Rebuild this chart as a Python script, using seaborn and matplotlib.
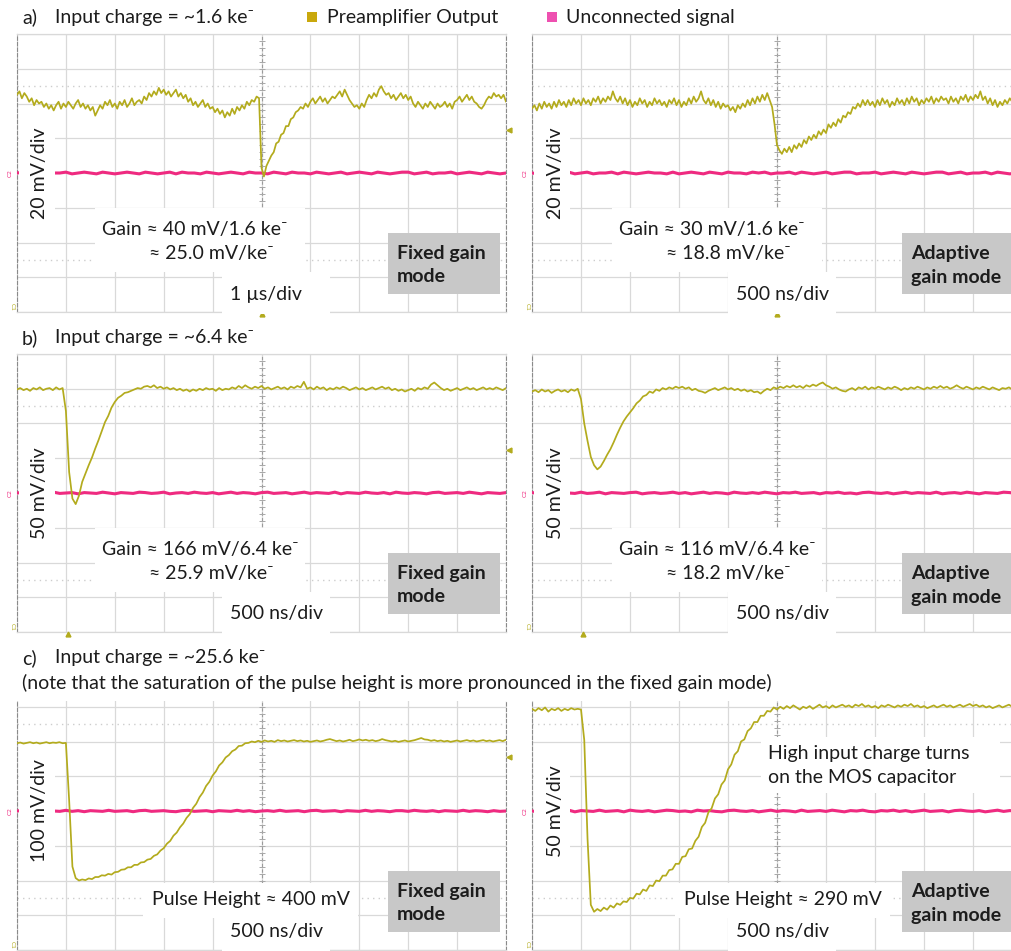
import numpy as np
import pandas as pd
import matplotlib
matplotlib.use("Agg")
import matplotlib.pyplot as plt
from matplotlib.patches import Rectangle
import seaborn as sns

# ---------------------------------------------------------------------------
# Oscilloscope captures, values in mV on screen. Each trace is sampled
# uniformly across the 10 horizontal divisions of its screen.
# ---------------------------------------------------------------------------

# a) input charge ~1.6 ke-, fixed gain mode (20 mV/div, 1 us/div)
preamp_a_fixed = [
    45, 47, 43, 46, 44, 41, 43, 39, 42, 40,
    41, 38, 40, 37, 39, 36, 39, 41, 37, 40,
    38, 41, 39, 37, 40, 42, 38, 40, 37, 39,
    36, 38, 33, 36, 39, 37, 41, 39, 42, 38,
    40, 37, 41, 39, 42, 38, 40, 43, 39, 41,
    42, 40, 44, 42, 46, 44, 47, 45, 49, 46,
    48, 45, 47, 44, 46, 48, 44, 46, 43, 45,
    41, 43, 39, 41, 38, 40, 42, 38, 40, 37,
    38, 35, 37, 34, 36, 32, 35, 33, 37, 34,
    38, 36, 39, 37, 41, 39, 42, 41, 44, 43,
    3, -2, 4, 7, 10, 12, 17, 18, 22, 23,
    27, 27, 31, 32, 35, 36, 38, 37, 40, 38,
    41, 43, 40, 42, 44, 41, 43, 40, 42, 44,
    43, 45, 47, 44, 48, 45, 42, 40, 38, 39,
    37, 40, 38, 42, 45, 43, 46, 44, 48, 50,
    47, 45, 46, 43, 45, 42, 44, 46, 43, 45,
    42, 44, 40, 38, 41, 39, 37, 40, 38, 41,
    39, 37, 40, 38, 39, 41, 38, 40, 37, 41,
    42, 44, 41, 43, 45, 42, 44, 41, 40, 38,
    37, 39, 42, 44, 43, 46, 44, 45, 43, 45,
    41,
]
unconnected_a_fixed = [
    0, 0.5, -0.5, 0, 0.5, -0.5, 0, 0, 0.5, -0.5, 0, 0.5, 0, -0.5, 0.5, 0, -0.5, 0, 0.5, 0,
    -0.5, 0.5, 0, -0.5, 0, 0.5, -0.5, 0.5, 0, 0, -0.5, 0.5, 0, -0.5, 0, 0.5, 0, -0.5, 0.5, 0,
    0, -0.5, 0.5, 0, -0.5, 0.5, 0, 0, -0.5, 0.5, 0, -0.5, 0, 0.5, -0.5, 0, 0.5, 0, -0.5, 0.5,
    0, -0.5, 0, 0.5, 0.5, -0.5, 0, 0.5, -0.5, 0, 0, 0.5, -0.5, 0, 0.5, 0, -0.5, 0.5, 0, -0.5, 0,
]

# a) input charge ~1.6 ke-, adaptive gain mode (20 mV/div, 500 ns/div)
preamp_a_adaptive = [
    37, 39, 36, 40, 37, 41, 38, 40, 37, 41,
    38, 42, 39, 41, 38, 42, 39, 43, 40, 42,
    39, 43, 40, 42, 39, 43, 41, 44, 40, 43,
    41, 44, 42, 47, 43, 41, 44, 40, 43, 39,
    42, 38, 41, 39, 43, 40, 42, 38, 41, 39,
    43, 40, 42, 39, 41, 38, 42, 40, 43, 39,
    42, 38, 41, 39, 43, 40, 44, 41, 43, 47,
    42, 40, 43, 39, 42, 38, 41, 37, 40, 38,
    39, 36, 38, 35, 39, 37, 40, 38, 42, 39,
    43, 40, 44, 41, 45, 42, 46, 42, 38, 28,
    16, 13, 11, 14, 12, 15, 12, 16, 14, 17,
    15, 19, 17, 21, 19, 22, 20, 24, 22, 25,
    23, 28, 26, 29, 27, 31, 29, 33, 32, 35,
    34, 38, 37, 40, 38, 42, 39, 42, 39, 41,
    38, 42, 39, 43, 40, 42, 38, 41, 39, 43,
    40, 42, 39, 43, 40, 44, 41, 43, 39, 42,
    40, 43, 41, 44, 40, 43, 41, 44, 42, 43,
    40, 44, 41, 43, 40, 44, 42, 45, 41, 44,
    42, 45, 43, 47, 42, 44, 40, 43, 39, 42,
    38, 41, 39, 42, 40, 43, 41, 44, 40, 42,
    41,
]
unconnected_a_adaptive = [
    0, -0.5, 0.5, 0, -0.5, 0.5, 0.5, -0.5, 0, 0.5, -0.5, 0, 0, 0.5, -0.5, 0.5, 0, -0.5, 0, 0.5,
    0, 0, -0.5, 0.5, -0.5, 0, 0.5, 0, -0.5, 0.5, 0, -0.5, 0.5, 0, 0, -0.5, 0.5, 0, 0.5, -0.5,
    0, 0, 0.5, -0.5, 0.5, 0, -0.5, 0, 0.5, -0.5, 0, 0.5, 0.5, -0.5, 0, 0, 0.5, -0.5, 0, 0.5,
    0, -0.5, 0.5, 0, -0.5, 0, 0.5, 0.5, -0.5, 0, 0.5, -0.5, 0, 0, 0.5, -0.5, 0.5, 0, -0.5, 0, 0.5,
]

# b) input charge ~6.4 ke-, fixed gain mode (50 mV/div, 500 ns/div)
preamp_b_fixed = [
    149, 151, 148, 150, 147, 151, 149, 152, 148, 150,
    151, 148, 152, 149, 151, 118, 30, -8, -16, -4,
    16, 28, 40, 51, 64, 76, 89, 102, 111, 123,
    131, 137, 140, 144, 145, 147, 149, 151, 150, 153,
    154, 152, 155, 151, 153, 150, 152, 149, 151, 148,
    150, 147, 149, 146, 149, 147, 150, 148, 151, 149,
    150, 147, 151, 148, 150, 149, 152, 150, 154, 151,
    155, 152, 150, 153, 151, 154, 150, 152, 149, 151,
    153, 150, 152, 149, 153, 151, 154, 152, 160, 150,
    152, 149, 153, 150, 152, 148, 151, 149, 152, 150,
    153, 151, 148, 150, 152, 149, 151, 148, 150, 152,
    149, 151, 153, 150, 152, 148, 150, 147, 149, 146,
    148, 150, 147, 151, 149, 152, 150, 156, 159, 155,
    151, 148, 150, 147, 149, 151, 148, 150, 152, 149,
    151, 148, 150, 152, 149, 151, 149, 152, 150, 148,
    151,
]
unconnected_b_fixed = [
    0, 1.2, -0.6, 0.6, -1.2, 0, 1.2, -0.6, 0, 0.6, -1.2, 0.6, 0, -0.6, 1.2, 0, -1.2, 0.6, 0, -0.6,
    1.2, 0.6, -0.6, 0, 1.2, -1.2, 0, 0.6, -0.6, 1.2, 0, -0.6, 0.6, -1.2, 0, 1.2, -0.6, 0.6, 0, -1.2,
    0.6, 1.2, -0.6, 0, 0.6, -1.2, 0, 1.2, -0.6, 0.6, 0, -0.6, 1.2, -1.2, 0.6, 0, -0.6, 1.2, 0, -0.6,
    0.6, -1.2, 1.2, 0, -0.6, 0.6, 0, -1.2, 0.6, 1.2, -0.6, 0, 0.6, -0.6, 1.2, 0, -1.2, 0.6, 0, -0.6, 0.6,
]

# b) input charge ~6.4 ke-, adaptive gain mode (50 mV/div, 500 ns/div)
preamp_b_adaptive = [
    146, 148, 145, 149, 146, 148, 144, 147, 149, 146,
    148, 145, 149, 147, 150, 135, 100, 75, 52, 40,
    34, 38, 46, 55, 63, 73, 84, 94, 103, 110,
    116, 122, 129, 133, 139, 141, 146, 144, 149, 147,
    151, 149, 152, 150, 153, 151, 153, 150, 152, 148,
    150, 147, 146, 144, 147, 149, 151, 148, 150, 152,
    149, 151, 148, 150, 147, 149, 146, 148, 145, 146,
    143, 147, 150, 148, 152, 150, 153, 151, 154, 152,
    155, 152, 154, 151, 155, 153, 156, 154, 157, 159,
    155, 153, 150, 152, 149, 147, 146, 149, 151, 148,
    152, 150, 153, 149, 152, 150, 153, 151, 149, 152,
    150, 153, 151, 148, 151, 149, 152, 150, 153, 151,
    149, 152, 150, 153, 151, 154, 151, 153, 150, 152,
    155, 152, 150, 153, 151, 149, 152, 150, 153, 151,
    149, 152, 150, 148, 151, 150, 152, 149, 151, 150,
    152,
]
unconnected_b_adaptive = [
    0.6, -0.6, 1.2, 0, -1.2, 0.6, 0, -0.6, 1.2, -0.6, 0, 1.2, -1.2, 0.6, 0, -0.6, 0.6, 1.2, -1.2, 0,
    0.6, -0.6, 0, 1.2, -0.6, 0.6, -1.2, 0, 1.2, -0.6, 0.6, 0, -1.2, 1.2, 0, -0.6, 0.6, -0.6, 1.2, 0,
    -1.2, 0.6, 0, 1.2, -0.6, 0, 0.6, -1.2, 0.6, 0, 1.2, -0.6, 0, -1.2, 0.6, 1.2, 0, -0.6, 0.6, -1.2,
    0, 1.2, -0.6, 0.6, 0, -0.6, 1.2, -1.2, 0, 0.6, -0.6, 1.2, 0, -1.2, 0.6, 0, -0.6, 1.2, 0.6, -0.6, 0,
]

# c) input charge ~25.6 ke-, fixed gain mode (100 mV/div, 500 ns/div)
preamp_c_fixed = [
    195, 197, 194, 196, 198, 195, 197, 194, 196, 198,
    195, 197, 196, 198, 195, 196, 30, -160, -193, -200,
    -197, -199, -194, -196, -190, -190, -185, -186, -181, -183,
    -176, -175, -169, -168, -162, -162, -155, -155, -148, -147,
    -140, -138, -129, -125, -114, -107, -94, -86, -71, -62,
    -47, -36, -20, -9, 9, 21, 40, 53, 72, 84,
    102, 114, 131, 140, 154, 161, 172, 177, 187, 188,
    195, 196, 200, 198, 202, 199, 203, 200, 202, 199,
    204, 201, 203, 200, 202, 204, 201, 203, 200, 202,
    199, 201, 203, 200, 202, 205, 207, 204, 201, 203,
    200, 202, 205, 201, 203, 206, 203, 205, 202, 204,
    201, 203, 207, 204, 202, 200, 202, 199, 201, 203,
    200, 202, 204, 207, 210, 206, 205, 202, 204, 201,
    203, 200, 202, 199, 201, 203, 200, 202, 204, 201,
    203, 200, 202, 204, 201, 203, 200, 202, 204, 201,
    205,
]
unconnected_c_fixed = [
    0, 2, -1, 1, -2, 1, 0, -1, 2, -1, 1, -2, 1, 0, -1, 2, -1, 0, 1, -2,
    1, 2, -1, 0, 1, -1, -2, 1, 2, -1, 0, 1, -2, 1, 0, -1, 2, -1, 1, -2,
    0, 1, -1, 2, -1, 0, 1, -2, 1, 2, -1, 0, 1, -2, 1, 0, -1, 2, -1, 1,
    0, -2, 1, 1, -1, 2, 0, -1, 1, -2, 1, 0, -1, 2, -1, 1, 0, -2, 1, -1, 0,
]

# c) input charge ~25.6 ke-, adaptive gain mode (50 mV/div, 500 ns/div)
preamp_c_adaptive = [
    147, 144, 148, 145, 149, 143, 147, 145, 148, 144,
    147, 145, 148, 146, 147, 146, 102, -40, -135, -145,
    -141, -144, -139, -142, -136, -139, -133, -135, -130, -131,
    -125, -126, -119, -120, -113, -115, -107, -108, -100, -101,
    -93, -93, -85, -84, -76, -76, -66, -65, -55, -54,
    -43, -37, -23, -17, -2, 4, 18, 24, 38, 44,
    60, 67, 81, 86, 100, 103, 115, 119, 128, 128,
    137, 137, 144, 143, 149, 146, 150, 147, 151, 148,
    152, 149, 146, 150, 148, 151, 147, 150, 153, 149,
    151, 148, 152, 149, 151, 153, 150, 152, 149, 153,
    151, 154, 150, 152, 149, 151, 148, 152, 150, 153,
    151, 149, 152, 150, 153, 151, 154, 150, 152, 149,
    151, 148, 150, 152, 149, 151, 153, 150, 152, 149,
    151, 153, 150, 152, 154, 151, 153, 150, 152, 149,
    151, 148, 150, 152, 149, 151, 153, 150, 148, 151,
    149,
]
unconnected_c_adaptive = [
    0, -1.2, 0.6, 1.2, -0.6, 0, 1.2, -1.2, 0.6, 0, -0.6, 1.2, -0.6, 0, 0.6, -1.2, 1.2, 0, -0.6, 0.6,
    -1.2, 0, 1.2, 0.6, -0.6, 0, -1.2, 1.2, 0, 0.6, -0.6, -1.2, 0.6, 1.2, 0, -0.6, 0.6, -1.2, 0, 1.2,
    -0.6, 0.6, 0, -1.2, 1.2, -0.6, 0, 0.6, -0.6, 1.2, 0, -1.2, 0.6, 0, 1.2, -0.6, -1.2, 0.6, 0, 1.2,
    -0.6, 0.6, -1.2, 0, 1.2, -0.6, 0, 0.6, -1.2, 0.6, 1.2, 0, -0.6, 0.6, -1.2, 0, 1.2, -0.6, 0.6, 0, -0.6,
]

# screen settings per panel
mv_per_div = [20, 20, 50, 50, 100, 50]
ns_per_div = [1000, 500, 500, 500, 500, 500]
scale_labels = ["20 mV/div", "20 mV/div", "50 mV/div", "50 mV/div", "100 mV/div", "50 mV/div"]
time_labels = ["1 µs/div", "500 ns/div", "500 ns/div", "500 ns/div", "500 ns/div", "500 ns/div"]
mode_labels = ["Fixed gain\nmode", "Adaptive\ngain mode"] * 3
gain_labels = [
    ("Gain ≈ 40 mV/1.6 ke⁻", "≈ 25.0 mV/ke⁻"),
    ("Gain ≈ 30 mV/1.6 ke⁻", "≈ 18.8 mV/ke⁻"),
    ("Gain ≈ 166 mV/6.4 ke⁻", "≈ 25.9 mV/ke⁻"),
    ("Gain ≈ 116 mV/6.4 ke⁻", "≈ 18.2 mV/ke⁻"),
]
pulse_labels = ["Pulse Height ≈ 400 mV", "Pulse Height ≈ 290 mV"]
row_titles = [("a)", "Input charge = ~1.6 ke⁻"),
              ("b)", "Input charge = ~6.4 ke⁻"),
              ("c)", "Input charge = ~25.6 ke⁻")]
note_c = "(note that the saturation of the pulse height is more pronounced in the fixed gain mode)"
mos_note = ("High input charge turns", "on the MOS capacitor")
legend_labels = ["Preamplifier Output", "Unconnected signal"]

preamp = [preamp_a_fixed, preamp_a_adaptive, preamp_b_fixed,
          preamp_b_adaptive, preamp_c_fixed, preamp_c_adaptive]
unconnected = [unconnected_a_fixed, unconnected_a_adaptive, unconnected_b_fixed,
               unconnected_b_adaptive, unconnected_c_fixed, unconnected_c_adaptive]

# ---------------------------------------------------------------------------
sns.set_style("white")
FONT = ["Lato", "DejaVu Sans"]
plt.rcParams["font.family"] = FONT

YELLOW = "#b3ab1d"
PINK = "#ef2a80"
YELLOW_KEY = "#c9a80c"
PINK_KEY = "#ee50b0"
GRID = "#d9d9d9"
BORDER = "#8a8a8a"
TEXT = "#1c1c1c"
BOXGRAY = "#c8c8c8"

W, H = 1012, 951
fig = plt.figure(figsize=(W / 100, H / 100), dpi=100)
fig.patch.set_facecolor("white")


def fx(x):
    return x / W


def fy(y):
    return 1 - y / H


def box(x0, y0, x1, y1, color="white", z=5):
    fig.add_artist(Rectangle((fx(x0), fy(y1)), (x1 - x0) / W, (y1 - y0) / H,
                             transform=fig.transFigure, facecolor=color,
                             edgecolor="none", zorder=z))


def label(x, y, s, size=14, weight="normal", ha="left", rot=0, color=TEXT, z=6, ls=1.2):
    fig.text(fx(x), fy(y), s, ha=ha, va="center", fontsize=size, fontweight=weight,
             rotation=rot, color=color, family=FONT, zorder=z, linespacing=ls)


col_x0 = [17, 532]
col_w = [489, 490]
row_y0 = [34, 354, 672]
PH = 278

for k in range(6):
    row, col = divmod(k, 2)
    x0, y0, w = col_x0[col], row_y0[row], col_w[col]
    s, t = mv_per_div[k], ns_per_div[k]

    ax = fig.add_axes([fx(x0), fy(y0 + PH), w / W, PH / H])
    ax.set_facecolor("white")
    ax.set_xlim(-5 * t, 5 * t)
    ax.set_ylim(-4 * s, 4 * s)
    ax.set_xticks(np.arange(-5, 6) * t)
    ax.set_yticks(np.arange(-4, 5) * s)
    ax.tick_params(length=0, labelbottom=False, labelleft=False)
    ax.grid(True, color=GRID, lw=0.9)
    ax.set_axisbelow(True)
    for side in ("top", "bottom"):
        ax.spines[side].set_color(GRID)
        ax.spines[side].set_linewidth(0.9)
    for side in ("left", "right"):
        ax.spines[side].set_color(BORDER)
        ax.spines[side].set_linewidth(0.8)
        ax.spines[side].set_linestyle((0, (3, 2)))

    # centre graticule with minor ticks, and dotted rows
    ax.axvline(0, color="#9a9a9a", lw=0.8, ls=(0, (3, 2)), zorder=1)
    ax.plot(np.zeros(41), np.linspace(-4 * s, 4 * s, 41), ls="none", marker="_",
            ms=4, mew=0.7, color="#a8a8a8", zorder=1)
    for yy in (-2.5 * s, 2.5 * s):
        ax.axhline(yy, color="#cdcdcd", lw=1.0, ls=(0, (1, 3)), zorder=1)

    yel = pd.DataFrame({"t": np.linspace(-5 * t, 5 * t, len(preamp[k])),
                        "mV": preamp[k]})
    pnk = pd.DataFrame({"t": np.linspace(-5 * t, 5 * t, len(unconnected[k])),
                        "mV": unconnected[k]})
    sns.lineplot(data=pnk, x="t", y="mV", ax=ax, color=PINK, lw=2.2,
                 estimator=None, sort=False, zorder=3)
    sns.lineplot(data=yel, x="t", y="mV", ax=ax, color=YELLOW, lw=1.25,
                 estimator=None, sort=False, zorder=4)
    ax.set_xlabel("")
    ax.set_ylabel("")

    # small scope markers
    if col == 0:
        trig = 0.694 if row == 2 else 0.655
        ax.plot([1.007], [trig], marker="<", ms=3.5, color=YELLOW,
                transform=ax.transAxes, clip_on=False, zorder=6)
    if row < 2:
        tx = 0.5 if row == 0 else 0.104
        ax.plot([tx], [-0.008], marker="^", ms=3.5, color=YELLOW,
                transform=ax.transAxes, clip_on=False, zorder=6)
    label(x0 - 7, y0 + 139, "C2", size=4.5, rot=90, color=PINK, ha="center")
    label(x0 - 5, y0 + PH - 5, "C1", size=4.5, rot=270, color=YELLOW, ha="center")

    # vertical scale label on a white patch
    cy = y0 + PH / 2
    box(x0 + 2, cy - 48, x0 + 38, cy + 48, z=5)
    label(x0 + 23, cy, scale_labels[k], rot=90, ha="center")

    # mode tag
    gx0 = 388 if col == 0 else 902
    gx1 = 500 if col == 0 else 1014
    box(gx0, y0 + 199, gx1, y0 + 260, color=BOXGRAY, z=5)
    label(gx0 + 9, y0 + 231, mode_labels[k], weight="bold", ls=1.5)

    # time base
    tx0 = 222 if col == 0 else 728
    box(tx0, y0 + 238, tx0 + 108, y0 + PH + 2, z=5)
    label(tx0 + 8, y0 + 260, time_labels[k])

    if row < 2:
        g1, g2 = gain_labels[k]
        bx0 = 95 if col == 0 else 612
        box(bx0, y0 + 174, bx0 + 210, y0 + 238, z=5)
        label(bx0 + 7, y0 + 195, g1)
        label(bx0 + 54, y0 + 220, g2)
    else:
        px0 = 143 if col == 0 else 675
        box(px0, y0 + 211, px0 + 215, y0 + 246, z=5)
        label(px0 + 9, y0 + 228, pulse_labels[col])

# caption strip over the top of row c
box(0, 640, W, 701, z=5)

# mos capacitor note
box(761, 737, 1000, 793, z=5)
label(768, 753, mos_note[0])
label(768, 778, mos_note[1])

# row titles
for (tag, txt), yt in zip(row_titles, (17, 338, 658)):
    label(22, yt, tag)
    label(55, yt, txt)
label(22, 683, note_c)

# legend keys
box(307, 12, 317, 22, color=YELLOW_KEY, z=6)
label(327, 17, legend_labels[0])
box(547, 12, 557, 22, color=PINK_KEY, z=6)
label(566, 17, legend_labels[1])

fig.savefig("out.png", dpi=100, facecolor="white")
